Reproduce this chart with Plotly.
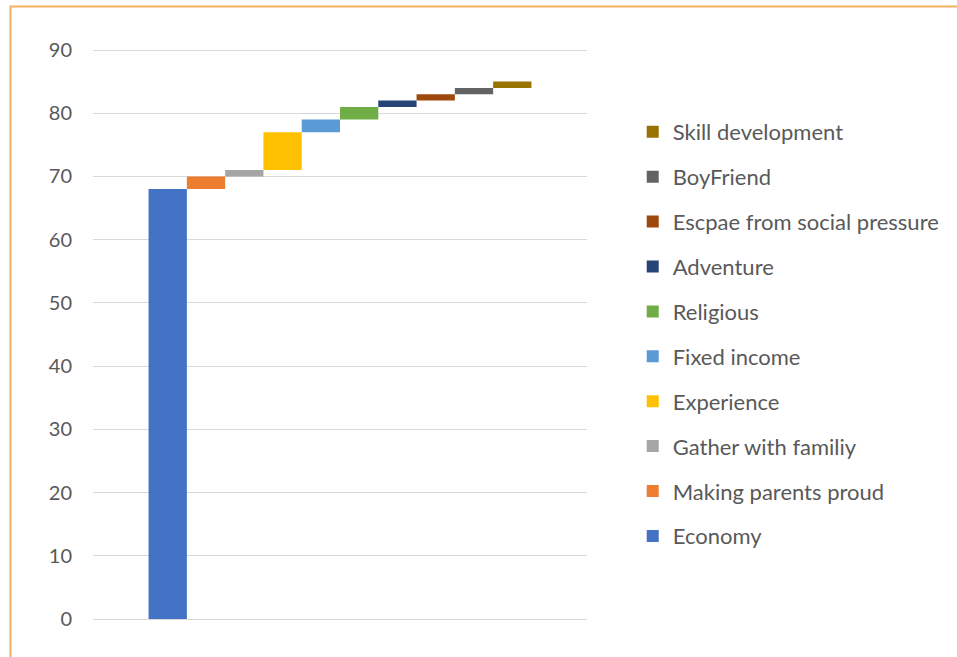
import plotly.graph_objects as go
import numpy as np

series = ["Economy", "Making parents proud", "Gather with familiy", "Experience",
          "Fixed income", "Religious", "Adventure", "Escpae from social pressure",
          "BoyFriend", "Skill development"]
values = [68, 2, 1, 6, 2, 2, 1, 1, 1, 1]
colors = ["#4472C4", "#ED7D31", "#A5A5A5", "#FFC000", "#5B9BD5",
          "#70AD47", "#264478", "#9E480E", "#636363", "#997300"]
category = [""]
y_ticks = [0, 10, 20, 30, 40, 50, 60, 70, 80, 90]

bases = np.concatenate([[0], np.cumsum(values)[:-1]])

W, H = 957, 657
ml, mr, mt, mb = 93, 367, 48, 36
PW, PH = W - ml - mr, H - mt - mb
pad = 2 * 90 / 569.0

fig = go.Figure()
for i, (name, v, b, c) in enumerate(zip(series, values, bases, colors)):
    fig.add_trace(go.Bar(
        x=category, y=[v], base=[float(b)], name=name,
        marker=dict(color=c, line=dict(width=0)),
        legendgroup=name, legendrank=1000 - i,
    ))

fig.update_layout(
    width=W, height=H,
    margin=dict(l=ml, r=mr, t=mt, b=mb),
    barmode="group", bargap=0.225, bargroupgap=0,
    plot_bgcolor="white", paper_bgcolor="white",
    font=dict(family="Lato", color="#595959"),
    showlegend=True,
    legend=dict(
        x=(636 - ml) / PW, y=(H - mb - 111) / PH, xanchor="left", yanchor="top",
        traceorder="grouped", tracegroupgap=13.3,
        font=dict(size=22, color="#595959", family="Lato"),
        bgcolor="rgba(0,0,0,0)",
    ),
    xaxis=dict(showticklabels=False, showgrid=False, zeroline=False, showline=False,
               range=[-0.5, 0.5]),
    yaxis=dict(range=[-pad, 90 + pad], tickvals=y_ticks, showgrid=True, gridcolor="#D9D9D9",
               gridwidth=1.3, zeroline=False, showline=False,
               tickfont=dict(size=20, color="#595959", family="Lato"),
               ticklabelstandoff=20),
    shapes=[dict(type="rect", xref="paper", yref="paper",
                 x0=(10 - ml) / PW, x1=(W + 10 - ml) / PW,
                 y0=-(mb + 10) / PH, y1=(H - 6.5 - mb) / PH,
                 line=dict(color="#F4B162", width=2), fillcolor="rgba(0,0,0,0)",
                 layer="below")],
)

fig.write_html("out.html", config={"displayModeBar": False},
               post_script="document.body.style.margin='0px';")
